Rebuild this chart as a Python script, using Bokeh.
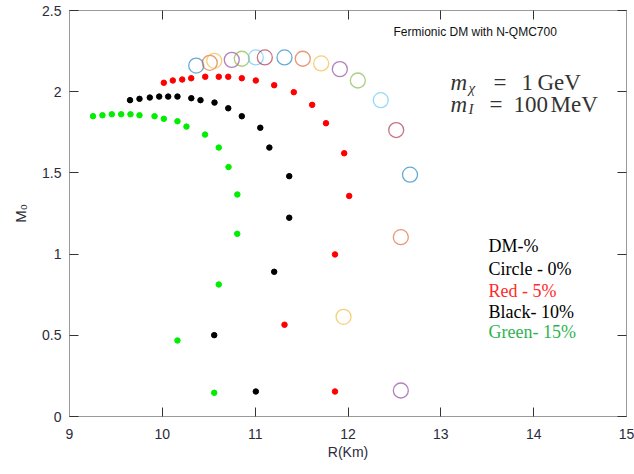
from bokeh.plotting import figure
from bokeh.models import Range1d, LinearAxis, FixedTicker, Label, ColumnDataSource
from bokeh.embed import file_html
from bokeh.resources import INLINE

# ---------------- data ----------------
x_ticks = [9, 10, 11, 12, 13, 14, 15]
x_tick_labels = ["9", "10", "11", "12", "13", "14", "15"]
y_ticks = [0, 0.5, 1, 1.5, 2, 2.5]
y_tick_labels = ["0", "0.5", "1", "1.5", "2", "2.5"]

# DM 0% (circles)
r_dm0 = [10.365, 10.511, 10.559, 10.748, 10.856, 11.007, 11.104, 11.316, 11.513,
         11.711, 11.912, 12.106, 12.353, 12.519, 12.668, 12.569, 11.952, 12.569]
m_dm0 = [2.161, 2.178, 2.190, 2.196, 2.203, 2.211, 2.211, 2.211, 2.203,
         2.174, 2.139, 2.069, 1.948, 1.764, 1.489, 1.104, 0.614, 0.160]
circle_colors = ["#0072BD", "#D95319", "#EDB120", "#7E2F8E", "#77AC30", "#4DBEEE", "#A2142F"]

# DM 5% (red)
r_dm5 = [10.016, 10.113, 10.214, 10.311, 10.462, 10.608, 10.710, 10.856, 11.007,
         11.205, 11.416, 11.614, 11.763, 11.959, 12.013, 11.860, 11.316, 11.860]
m_dm5 = [2.055, 2.069, 2.075, 2.083, 2.092, 2.092, 2.092, 2.083, 2.069,
         2.040, 1.997, 1.919, 1.806, 1.621, 1.358, 0.998, 0.565, 0.154]

# DM 10% (black)
r_dm10 = [9.652, 9.754, 9.865, 9.966, 10.063, 10.163, 10.312, 10.411, 10.562,
          10.710, 10.856, 11.055, 11.153, 11.367, 11.367, 11.205, 10.559, 11.007]
m_dm10 = [1.948, 1.956, 1.964, 1.970, 1.970, 1.970, 1.960, 1.948, 1.933,
          1.898, 1.849, 1.778, 1.656, 1.480, 1.224, 0.891, 0.501, 0.154]

# DM 15% (green)
r_dm15 = [9.253, 9.355, 9.456, 9.557, 9.657, 9.754, 9.916, 10.016, 10.163,
          10.260, 10.460, 10.608, 10.713, 10.808, 10.807, 10.608, 10.163, 10.559]
m_dm15 = [1.849, 1.855, 1.861, 1.861, 1.861, 1.855, 1.849, 1.833, 1.818,
          1.785, 1.736, 1.656, 1.536, 1.367, 1.125, 0.813, 0.468, 0.146]

legend_lines = ["DM-%", "Circle - 0%", "Red - 5%", "Black- 10%", "Green- 15%"]
legend_colors = ["#000000", "#000000", "#ff2a2a", "#000000", "#2fb350"]

# ---------------- figure ----------------
W, H = 634, 474
FL, FR, FT, FB = 69, 626, 10, 416  # frame edges in px

p = figure(width=W, height=H, x_range=Range1d(9, 15), y_range=Range1d(0, 2.5),
           output_backend="svg", toolbar_location=None,
           min_border_left=FL, min_border_right=W - FR,
           min_border_top=FT, min_border_bottom=H - FB)
p.xgrid.visible = False
p.ygrid.visible = False
p.outline_line_color = "#9a9a9a"
p.outline_line_width = 1
p.background_fill_color = "white"
p.border_fill_color = "white"


def px2x(px):
    return 9 + (px - FL) / (FR - FL) * 6


def px2y(py):
    return (FB - py) / (FB - FT) * 2.5


def style_axis(ax, show_labels):
    ax.axis_line_color = "#9a9a9a"
    ax.major_tick_line_color = "#333333"
    ax.major_tick_in = 9
    ax.major_tick_out = 0
    ax.minor_tick_line_color = None
    ax.major_label_text_font = "Liberation Sans"
    ax.major_label_text_font_size = "14px"
    ax.major_label_text_color = "#2b2b3a"
    ax.axis_label_text_font = "Liberation Sans"
    ax.axis_label_text_font_size = "14px"
    ax.axis_label_text_font_style = "normal"
    ax.axis_label_text_color = "#2b2b3a"


xax = p.xaxis[0]
xax.ticker = FixedTicker(ticks=x_ticks)
xax.major_label_overrides = dict(zip(x_ticks, x_tick_labels))
xax.axis_label = "R(Km)"
style_axis(xax, True)
xax.major_label_standoff = 12
xax.axis_label_standoff = 2

yax = p.yaxis[0]
yax.ticker = FixedTicker(ticks=y_ticks)
yax.major_label_overrides = dict(zip(y_ticks, y_tick_labels))
yax.axis_label = "M\u2080"
style_axis(yax, True)
yax.axis_label_text_font_size = "15px"
yax.major_label_standoff = 8
yax.axis_label_standoff = 10

top = LinearAxis(ticker=FixedTicker(ticks=x_ticks))
style_axis(top, False)
top.major_label_overrides = {t: "" for t in x_ticks}
top.major_label_standoff = 0
p.add_layout(top, "above")

right = LinearAxis(ticker=FixedTicker(ticks=y_ticks))
style_axis(right, False)
right.major_label_overrides = {t: "" for t in y_ticks}
right.major_label_standoff = 0
p.add_layout(right, "right")

# ---------------- data marks ----------------
src0 = ColumnDataSource(dict(x=r_dm0, y=m_dm0,
                             c=[circle_colors[i % len(circle_colors)] for i in range(len(r_dm0))]))
p.scatter("x", "y", source=src0, marker="circle", size=15, fill_color=None,
          line_color="c", line_alpha=0.6, line_width=1.3)

p.scatter(r_dm5, m_dm5, marker="circle", size=5.5, color="#ff0000")
p.scatter(r_dm10, m_dm10, marker="circle", size=5.5, color="#000000")
p.scatter(r_dm15, m_dm15, marker="circle", size=5.5, color="#00ee00")

# ---------------- annotations ----------------
p.add_layout(Label(x=px2x(393), y=px2y(31), text="Fermionic DM with N-QMC700",
                   text_font="Liberation Sans", text_font_size="12px",
                   text_color="#111111", text_baseline="middle", text_align="left"))

serif = "Liberation Serif"
math_pieces = [
    # text, page-x, page-baseline-y, size, italic
    ("m", 450, 82, "23px", True),
    ("\u03c7", 468, 87, "15px", True),
    ("=", 493, 82, "23px", False),
    ("1", 521, 82, "23px", False),
    ("GeV", 537, 82, "23px", False),
    ("m", 450, 103.5, "23px", True),
    ("I", 468, 108.5, "15px", True),
    ("=", 489, 103.5, "23px", False),
    ("100", 513, 103.5, "23px", False),
    ("MeV", 550, 103.5, "23px", False),
]
for t, xx, yy, fs, it in math_pieces:
    p.add_layout(Label(x=px2x(xx), y=px2y(yy), text=t, text_font=serif,
                       text_font_size=fs, text_font_style="italic" if it else "normal",
                       text_color="#333333", text_baseline="alphabetic", text_align="left"))

legend_y = [245, 268, 290, 311, 331]
for t, c, yy in zip(legend_lines, legend_colors, legend_y):
    p.add_layout(Label(x=px2x(488), y=px2y(yy), text=t, text_font=serif,
                       text_font_size="18px", text_color=c,
                       text_baseline="middle", text_align="left"))

open("out.html", "w").write(file_html(p, INLINE))
